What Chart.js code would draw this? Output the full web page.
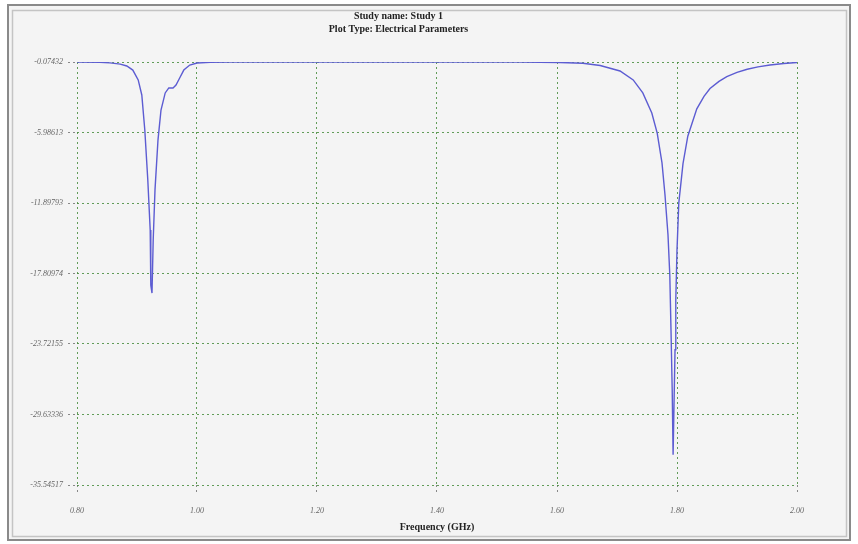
<!DOCTYPE html>
<html>
<head>
<meta charset="utf-8">
<script src="https://cdn.jsdelivr.net/npm/chart.js@4/dist/chart.umd.min.js"></script>
<style>
  html, body { margin: 0; padding: 0; background: #fff; }
  #wrap { position: relative; width: 858px; height: 544px; }
</style>
</head>
<body>
<div id="wrap"><canvas id="myChart" width="858" height="544"></canvas></div>
<script>
// frequency (GHz) and return values
const freqs = [
  0.800, 0.838, 0.855, 0.872, 0.883, 0.893, 0.902, 0.908, 0.913, 0.918,
  0.922, 0.923, 0.925, 0.927, 0.930, 0.935, 0.940, 0.947, 0.953, 0.960,
  0.965, 0.972, 0.978, 0.988, 1.000, 1.022, 1.055, 1.150, 1.300, 1.450,
  1.538, 1.605, 1.643, 1.672, 1.705, 1.727, 1.743, 1.758, 1.767, 1.775,
  1.780, 1.785, 1.788, 1.790, 1.792, 1.7935, 1.7967, 1.798, 1.800, 1.803,
  1.810, 1.818, 1.833, 1.845, 1.855, 1.870, 1.883, 1.900, 1.917, 1.935,
  1.955, 1.978, 2.000
]
const values = [
  -0.07, -0.10, -0.15, -0.25, -0.41, -0.75, -1.58, -2.84, -5.78, -9.97,
  -14.16, -18.8, -19.45, -15.0, -10.8, -6.6, -4.1, -2.67, -2.25, -2.25,
  -2.0, -1.33, -0.75, -0.33, -0.16, -0.10, -0.08, -0.075, -0.075, -0.075,
  -0.075, -0.11, -0.18, -0.37, -0.83, -1.58, -2.67, -4.35, -6.03, -8.54,
  -11.23, -14.58, -17.94, -22.55, -27.58, -33.0, -24.2, -20.0, -15.84, -11.9,
  -8.6, -6.3, -4.0, -2.95, -2.3, -1.7, -1.3, -0.95, -0.68, -0.48,
  -0.33, -0.2, -0.11
]
const yTicks = [-0.07432, -5.98613, -11.89794, -17.80974, -23.72155, -29.63336, -35.54517]
const yTickLabels = ['-0.07432', '-5.98613', '-11.89793', '-17.80974', '-23.72155', '-29.63336', '-35.54517']
const xTicks = [0.8, 1.0, 1.2, 1.4, 1.6, 1.8, 2.0]

const gridGreen = 'rgba(70,140,60,0.85)'
const tickFont = { family: "'Liberation Serif', 'DejaVu Serif', serif", size: 8, style: 'italic' }

const frame = {
  id: 'frame',
  beforeDraw(chart) {
    const c = chart.ctx
    c.save()
    c.fillStyle = '#fff'
    c.fillRect(0, 0, chart.width, chart.height)
    c.fillStyle = '#f4f4f4'
    c.fillRect(8, 5, 842, 535)
    c.strokeStyle = '#8a8a8a'
    c.lineWidth = 2
    c.strokeRect(8, 5, 842, 535)
    c.strokeStyle = '#c4c4c4'
    c.lineWidth = 1.5
    c.strokeRect(12.5, 10.5, 834, 526)
    c.restore()
  }
}

const ctx = document.getElementById('myChart').getContext('2d')
const myChart = new Chart(ctx, {
  type: 'scatter',
  data: {
    datasets: [{
      data: freqs.map((f, i) => ({ x: f, y: values[i] })),
      showLine: true,
      borderColor: '#5c5cd2',
      borderWidth: 1.4,
      pointRadius: 0,
      tension: 0
    }]
  },
  options: {
    responsive: false,
    animation: false,
    devicePixelRatio: 1,
    layout: { padding: { left: 0, right: 61, top: 0, bottom: 0 } },
    plugins: {
      legend: { display: false },
      tooltip: { enabled: false },
      title: {
        display: true,
        text: ['Study name: Study 1', 'Plot Type: Electrical Parameters'],
        color: '#222',
        font: { family: "'Liberation Serif', 'DejaVu Serif', serif", size: 10, weight: 'bold', lineHeight: 1.3 },
        padding: { top: 10, bottom: 26 }
      }
    },
    scales: {
      x: {
        type: 'linear',
        min: 0.8,
        max: 2.0,
        afterBuildTicks: s => { s.ticks = xTicks.map(v => ({ value: v })) },
        afterFit: s => { s.height = 59 },
        ticks: {
          color: '#666',
          font: tickFont,
          padding: 12,
          maxRotation: 0,
          callback: v => Number(v).toFixed(2)
        },
        grid: {
          color: gridGreen,
          lineWidth: 1,
          tickLength: 9,
          tickColor: '#888',
          tickBorderDash: [2, 3]
        },
        border: { display: false, dash: [2, 3] },
        title: {
          display: true,
          text: 'Frequency (GHz)',
          color: '#222',
          font: { family: "'Liberation Serif', 'DejaVu Serif', serif", size: 10, weight: 'bold', lineHeight: 1.3 },
          padding: { top: 2, bottom: 10 }
        }
      },
      y: {
        type: 'linear',
        min: -35.54517,
        max: -0.07432,
        afterBuildTicks: s => { s.ticks = yTicks.map(v => ({ value: v })) },
        afterFit: s => { s.width = 77 },
        ticks: {
          color: '#666',
          font: tickFont,
          padding: 5,
          callback: (v, i) => yTickLabels[i]
        },
        grid: {
          color: gridGreen,
          lineWidth: 1,
          tickLength: 9,
          tickColor: '#888',
          tickBorderDash: [2, 3]
        },
        border: { display: false, dash: [2, 3] }
      }
    }
  },
  plugins: [frame]
})
</script>
</body>
</html>
